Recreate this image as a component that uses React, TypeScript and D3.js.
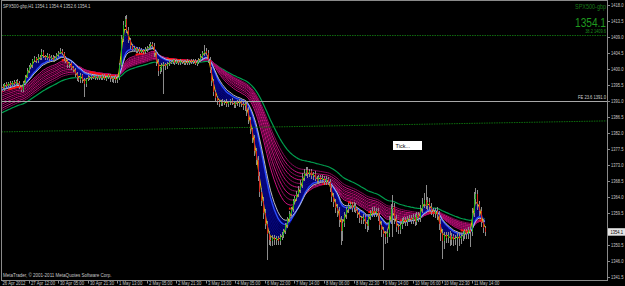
import React from 'react';
import * as d3 from 'd3';

const W = 625;
const H = 286;

// hourly closes, SPX500-gbp H1, 26 Apr – 11 May 2012
const closes = [
  1394.9, 1395.3, 1394.6, 1395.8, 1395.2, 1396.0, 1395.4, 1396.3, 1395.7, 1396.5, 1396.1,
  1395.0, 1394.2,
  1396.0, 1397.8, 1399.5, 1400.6, 1401.0,
  1402.4, 1403.0, 1402.2, 1403.5, 1403.1,
  1404.8,
  1403.6, 1403.0, 1403.8, 1402.9, 1403.4, 1402.6, 1403.2,
  1403.9, 1404.6, 1405.2, 1404.5,
  1403.0, 1402.2, 1401.0, 1401.6, 1400.3, 1399.8,
  1398.6, 1397.5, 1397.0,
  1398.2, 1397.0, 1395.8,
  1397.2, 1397.8, 1397.4, 1398.0, 1397.6, 1398.1, 1397.4, 1397.9,
  1397.5, 1398.0, 1397.3, 1397.7, 1398.2, 1397.6, 1397.1, 1397.8,
  1396.8, 1397.4,
  1401.0, 1408.5, 1412.4, 1414.2,
  1411.0, 1408.2, 1406.5, 1405.4,
  1405.8, 1405.0, 1405.6, 1404.9, 1405.3, 1404.7, 1405.5, 1405.9,
  1406.4, 1407.0, 1406.6,
  1404.5, 1402.0, 1399.5, 1400.2,
  1401.0, 1401.4, 1400.8, 1401.5, 1401.9,
  1402.0, 1402.4, 1401.8, 1402.2, 1401.7, 1402.3, 1402.0, 1401.6, 1402.1, 1401.8, 1402.2,
  1401.9, 1402.3, 1401.5, 1402.0, 1402.6,
  1403.5, 1404.4, 1405.2, 1404.6,
  1402.5, 1399.8, 1396.5, 1393.5, 1391.8,
  1390.8, 1390.2, 1391.0, 1390.4, 1390.9, 1390.1, 1390.6, 1391.2, 1390.5, 1389.9, 1390.6, 1390.3, 1391.0, 1390.2, 1389.6, 1390.1,
  1388.5,
  1385.7, 1383.0, 1380.5, 1377.0, 1374.4, 1370.0, 1365.5, 1363.0, 1359.5, 1356.5, 1353.5, 1352.0,
  1351.5, 1352.6, 1351.8, 1352.4, 1351.6, 1352.8, 1353.4,
  1354.5, 1356.0, 1357.8, 1359.3, 1360.5,
  1362.8, 1363.6, 1364.8, 1366.0, 1367.5,
  1369.3, 1370.8, 1371.5, 1370.4, 1371.2,
  1369.8, 1370.5, 1369.2, 1368.6, 1369.5, 1368.9, 1369.4, 1368.3, 1369.0, 1368.2,
  1366.5, 1364.0, 1362.5, 1361.0, 1360.2,
  1357.5, 1354.5, 1356.8, 1358.9, 1360.5,
  1361.5, 1361.9, 1360.8, 1361.6, 1360.4,
  1359.2, 1358.0, 1357.6, 1358.3, 1356.5, 1355.8,
  1358.4, 1359.6, 1360.2, 1359.5, 1360.0, 1358.6,
  1356.2, 1354.6, 1353.5, 1352.8, 1354.0,
  1357.5, 1360.5, 1361.2,
  1357.8, 1355.5, 1354.8, 1356.0, 1357.2,
  1357.6, 1356.9, 1357.8, 1358.2,
  1357.5, 1358.3, 1357.0, 1358.8, 1358.0,
  1360.5, 1362.0, 1363.2, 1361.5, 1362.6, 1361.2,
  1360.0, 1359.3, 1360.2, 1359.0,
  1356.5, 1353.8, 1351.5, 1353.2,
  1352.6, 1353.4, 1352.0, 1352.9, 1351.8, 1352.5, 1353.1, 1352.3, 1353.0,
  1353.6, 1354.3, 1353.5, 1354.8, 1354.2,
  1359.5, 1363.5, 1364.8,
  1362.0, 1360.2, 1357.0, 1355.2, 1354.1,
];
const firstOpen = 1394.6;

// wick lengths above / below the body, in tenths of a point
const upperWickTenths = [
  5, 4, 6, 3, 5, 4, 6, 3, 5, 4,
  6, 4, 5, 7, 6, 8, 5, 6, 4, 7,
  5, 6, 4, 7, 5, 4, 6, 5, 4, 5,
  4, 6, 5, 8, 5, 4, 6, 5, 4, 5,
  6, 4, 5, 3, 6, 4, 5, 4, 6, 3,
  5, 4, 6, 3, 5, 4, 5, 6, 4, 5,
  4, 5, 3, 6, 4, 8, 10, 12, 8, 9,
  7, 6, 5, 6, 4, 5, 6, 5, 4, 6,
  5, 7, 6, 5, 6, 7, 8, 5, 6, 5,
  4, 5, 6, 4, 5, 3, 5, 4, 6, 3,
  5, 4, 6, 3, 5, 4, 5, 6, 4, 7,
  8, 16, 6, 7, 8, 9, 7, 6, 5, 6,
  4, 6, 5, 7, 4, 5, 6, 4, 5, 6,
  5, 4, 6, 5, 7, 8, 9, 8, 10, 9,
  12, 10, 11, 9, 10, 8, 9, 7, 8, 6,
  7, 6, 8, 7, 6, 8, 7, 9, 8, 7,
  8, 9, 10, 12, 15, 10, 8, 9, 8, 7,
  6, 8, 7, 6, 8, 7, 6, 8, 7, 9,
  8, 10, 9, 11, 10, 12, 10, 9, 8, 9,
  7, 8, 9, 7, 8, 9, 7, 8, 9, 10,
  9, 8, 10, 9, 8, 10, 9, 11, 10, 9,
  10, 12, 15, 34, 12, 11, 9, 10, 8, 9,
  8, 9, 8, 7, 9, 8, 10, 9, 12, 18,
  20, 42, 14, 12, 10, 9, 8, 11, 10, 12,
  11, 10, 9, 8, 10, 9, 8, 9, 8, 7,
  8, 9, 7, 8, 9, 8, 15, 18, 17, 12,
  10, 9, 8, 6,
];
const lowerWickTenths = [
  5, 6, 4, 7, 5, 6, 4, 5, 6, 4,
  5, 7, 8, 6, 5, 4, 6, 5, 7, 5,
  6, 5, 7, 6, 5, 6, 4, 7, 5, 6,
  5, 6, 4, 5, 6, 7, 6, 8, 6, 7,
  7, 8, 9, 6, 8, 10, 37, 8, 7, 6,
  6, 5, 7, 6, 5, 7, 6, 5, 6, 5,
  12, 8, 9, 6, 7, 5, 6, 8, 7, 9,
  10, 8, 7, 6, 5, 6, 7, 5, 6, 5,
  6, 5, 7, 8, 10, 12, 14, 9, 10, 80,
  10, 8, 7, 6, 5, 6, 5, 7, 6, 5,
  6, 5, 7, 6, 5, 6, 5, 7, 6, 5,
  6, 7, 8, 9, 10, 12, 11, 10, 8, 9,
  7, 8, 6, 9, 7, 8, 6, 9, 10, 8,
  9, 10, 12, 14, 16, 12, 14, 13, 15, 14,
  16, 15, 14, 18, 16, 72, 15, 14, 12, 13,
  12, 10, 11, 9, 10, 9, 8, 9, 7, 8,
  7, 8, 9, 8, 10, 9, 8, 10, 9, 8,
  9, 8, 10, 9, 8, 9, 8, 10, 9, 12,
  13, 14, 15, 18, 20, 40, 30, 12, 10, 11,
  10, 9, 11, 10, 12, 13, 11, 12, 14, 16,
  12, 10, 11, 12, 10, 13, 15, 18, 100, 20,
  16, 12, 10, 78, 14, 13, 12, 11, 10, 9,
  10, 11, 9, 12, 10, 11, 9, 10, 9, 11,
  10, 9, 12, 10, 11, 9, 12, 15, 18, 22,
  49, 20, 16, 14, 18, 15, 16, 14, 37, 20,
  14, 13, 15, 12, 14, 42, 12, 10, 14, 16,
  15, 14, 12, 10,
];

const timeLabels = [
  '26 Apr 2012', '27 Apr 12:00', '30 Apr 05:00', '30 Apr 21:30', '1 May 13:00',
  '2 May 05:00', '2 May 21:30', '3 May 13:00', '4 May 05:00', '6 May 22:00',
  '7 May 14:00', '8 May 06:00', '8 May 22:30', '9 May 14:00', '10 May 06:00',
  '10 May 22:30', '11 May 14:00',
];
const barsPerLabel = 16;

const priceTicks = [
  1418.0, 1413.5, 1409.0, 1404.5, 1400.0, 1395.5, 1391.0, 1386.5, 1382.0,
  1377.5, 1373.0, 1368.5, 1364.0, 1359.5, 1355.0, 1350.5, 1346.0, 1341.5,
];

// moving-average ribbon: periods and their levels at the first visible bar
const yellowPeriod = 3;
const yellowStart = 1394.8;
const bluePeriods = [4, 5, 6, 7, 8, 9, 10, 11, 12];
const blueStarts = [1394.7, 1394.6, 1394.5, 1394.4, 1394.3, 1394.2, 1394.1, 1394.0, 1393.9];
const whitePeriod = 14;
const whiteStart = 1393.8;
const redPeriod = 20;
const redStart = 1393.5;
const magentaPeriods = [22, 25, 28, 31, 34, 37, 40, 43, 46, 50];
const magentaStarts = [1393.3, 1392.7, 1392.1, 1391.5, 1390.9, 1390.3, 1389.7, 1389.1, 1388.5, 1387.9];
const greenPeriod = 60;
const greenStart = 1387.3;
const redFlatSlope = 0.15; // red is shown only where the average runs flat

const fib382 = 1409.6;
const fe236 = 1391.0;
const trendBars = [0, 329];
const trendPrices = [1382.3, 1385.4];
const lastPrice = 1354.1;
const symbol = 'SPX500-gbp';
const ohlcTitle = 'SPX500-gbp,H1  1354.1 1354.4 1352.6 1354.1';
const copyright = 'MetaTrader, \u00a9 2001-2011 MetaQuotes Software Corp.';

function ema(period: number, start: number): number[] {
  const a = 2 / (period + 1);
  const out: number[] = [];
  let v = start;
  closes.forEach((c, i) => {
    if (i > 0) v = v + a * (c - v);
    out.push(v);
  });
  return out;
}

const FONT = 'Liberation Sans, Arial, sans-serif';

function SText(props: {
  x: number;
  y: number;
  size: number;
  sx: number;
  fill: string;
  anchor?: string;
  children: React.ReactNode;
}) {
  return (
    <text
      transform={`translate(${props.x},${props.y}) scale(${props.sx},1)`}
      fontSize={props.size}
      fill={props.fill}
      textAnchor={props.anchor || 'start'}
    >
      {props.children}
    </text>
  );
}

export default function App() {
  const n = closes.length;
  const x = d3.scaleLinear().domain([0, n - 1]).range([-1.05, -1.05 + (n - 1) * 1.847]);
  const y = d3.scaleLinear().domain([1418, 1341.5]).range([5, 277]);

  const plotRight = 607.5;
  const plotBottom = 280.5;

  const line = d3.line<number>().x((_, i) => x(i)).y((d) => y(d));

  const yellow = ema(yellowPeriod, yellowStart);
  const blues = bluePeriods.map((p, k) => ema(p, blueStarts[k]));
  const white = ema(whitePeriod, whiteStart);
  const red = ema(redPeriod, redStart);
  const magentas = magentaPeriods.map((p, k) => ema(p, magentaStarts[k]));
  const green = ema(greenPeriod, greenStart);

  const redFlat = red.map((v, i) => {
    const prev = red[Math.max(0, i - 1)];
    const next = red[Math.min(n - 1, i + 1)];
    return Math.abs(next - prev) / 2 < redFlatSlope;
  });
  const redLine = d3
    .line<number>()
    .defined((_, i) => redFlat[i])
    .x((_, i) => x(i))
    .y((d) => y(d));

  const fillArea = d3
    .area<number>()
    .x((_, i) => x(i))
    .y0((d) => y(d))
    .y1((_, i) => y(white[i]));

  const bars = closes.map((c, i) => {
    const o = i === 0 ? firstOpen : closes[i - 1];
    const hi = Math.max(o, c) + upperWickTenths[i] / 10;
    const lo = Math.min(o, c) - lowerWickTenths[i] / 10;
    return { i, o, c, hi, lo };
  });

  const trendLine = d3.line<number>().x((_, k) => x(trendBars[k])).y((d) => y(d));
  const lastY = y(lastPrice);

  return (
    <svg
      width={W}
      height={H}
      style={{ position: 'fixed', left: 0, top: 0, display: 'block', background: '#000' }}
      fontFamily={FONT}
    >
      <rect x={0} y={0} width={W} height={H} fill="#000" />
      <defs>
        <clipPath id="plot">
          <rect x={2} y={1} width={plotRight - 2} height={plotBottom - 1} />
        </clipPath>
      </defs>

      <g clipPath="url(#plot)">
        {/* indicators */}
        <path d={line(green) || ''} fill="none" stroke="#00a050" strokeWidth={1.2} />
        {magentas.map((m, k) => (
          <path
            key={'m' + k}
            d={line(m) || ''}
            fill="none"
            stroke={k % 2 === 0 ? '#cc1080' : '#8a0a5c'}
            strokeWidth={1}
          />
        ))}
        <path d={redLine(red) || ''} fill="none" stroke="#ff1010" strokeWidth={2} />
        <path d={fillArea(yellow) || ''} fill="#000060" opacity={0.9} />
        {blues.map((b, k) => (
          <path
            key={'b' + k}
            d={line(b) || ''}
            fill="none"
            stroke={k === blues.length - 1 ? '#2a4cff' : '#0c0c96'}
            strokeWidth={k === blues.length - 1 ? 1.4 : 0.6}
          />
        ))}
        <path d={line(white) || ''} fill="none" stroke="#d0d0d0" strokeWidth={0.9} />
        <path d={line(yellow) || ''} fill="none" stroke="#f0c000" strokeWidth={1} />

        {/* bars */}
        <g shapeRendering="crispEdges">
          {bars.map((b) => {
            const px = Math.round(x(b.i)) + 0.5;
            const top = y(Math.max(b.o, b.c));
            const bot = y(Math.min(b.o, b.c));
            return (
              <g key={'bar' + b.i}>
                <line x1={px} x2={px} y1={y(b.hi)} y2={y(b.lo)} stroke="#8c8c8c" strokeWidth={1} />
                <line
                  x1={px}
                  x2={px}
                  y1={top}
                  y2={Math.max(bot, top + 1)}
                  stroke={b.c >= b.o ? '#22b022' : '#d02a20'}
                  strokeWidth={1}
                />
              </g>
            );
          })}
        </g>

        {/* objects */}
        <line
          x1={2}
          x2={plotRight}
          y1={Math.round(y(fib382)) + 0.5}
          y2={Math.round(y(fib382)) + 0.5}
          stroke="#0e6a0e"
          strokeDasharray="1.5 1"
        />
        <line
          x1={2}
          x2={plotRight}
          y1={Math.round(y(fe236)) + 0.5}
          y2={Math.round(y(fe236)) + 0.5}
          stroke="#a8a8a8"
          strokeWidth={1}
        />
        <path d={trendLine(trendPrices) || ''} fill="none" stroke="#0d700d" strokeDasharray="1.5 1" />
      </g>

      {/* frame */}
      <rect
        x={1.5}
        y={0.5}
        width={plotRight - 1.5}
        height={plotBottom - 0.5}
        fill="none"
        stroke="#8a8a8a"
        strokeWidth={1}
        shapeRendering="crispEdges"
      />

      {/* labels on objects */}
      <SText x={606} y={33} size={4.6} sx={0.86} fill="#1a8a1a" anchor="end">
        {'38.2 ' + fib382.toFixed(1)}
      </SText>
      <SText x={606} y={99} size={4.6} sx={0.89} fill="#d0d0d0" anchor="end">
        {'FE 23.6 ' + fe236.toFixed(1)}
      </SText>

      {/* tick box */}
      <rect x={393} y={141} width={29} height={9} fill="#ffffff" />
      <text x={395.5} y={147.8} fontSize={5.5} fill="#000">
        Tick...
      </text>

      {/* top texts */}
      <SText x={3} y={8} size={5.6} sx={0.76} fill="#c8c8c8">
        {ohlcTitle}
      </SText>
      <SText x={606} y={8.5} size={7} sx={0.78} fill="#187818" anchor="end">
        {symbol}
      </SText>
      <SText x={606} y={26.5} size={13} sx={0.78} fill="#1f9a1f" anchor="end">
        {lastPrice.toFixed(1)}
      </SText>
      <SText x={3} y={277} size={5.4} sx={0.84} fill="#c8c8c8">
        {copyright}
      </SText>

      {/* price axis */}
      {priceTicks
        .filter((p) => Math.abs(y(p) - lastY) > 6)
        .map((p) => (
          <g key={'p' + p}>
            <line
              x1={plotRight}
              x2={610}
              y1={Math.round(y(p)) + 0.5}
              y2={Math.round(y(p)) + 0.5}
              stroke="#8a8a8a"
            />
            <SText x={611} y={y(p) + 1.8} size={5} sx={0.82} fill="#c8c8c8">
              {p.toFixed(1)}
            </SText>
          </g>
        ))}
      <rect x={608} y={lastY - 4} width={17} height={7.5} fill="#e4e4e4" />
      <SText x={610.5} y={lastY + 1.8} size={5} sx={0.82} fill="#000">
        {lastPrice.toFixed(1)}
      </SText>

      {/* time axis */}
      {timeLabels.map((t, k) => {
        const px = Math.round(x(k * barsPerLabel)) + 0.5;
        return (
          <g key={'t' + k}>
            {k > 0 && <line x1={px} x2={px} y1={plotBottom} y2={283.5} stroke="#8a8a8a" />}
            <SText x={Math.max(px + 1.5, 2.5)} y={285} size={5} sx={0.85} fill="#c8c8c8">
              {t}
            </SText>
          </g>
        );
      })}
    </svg>
  );
}
